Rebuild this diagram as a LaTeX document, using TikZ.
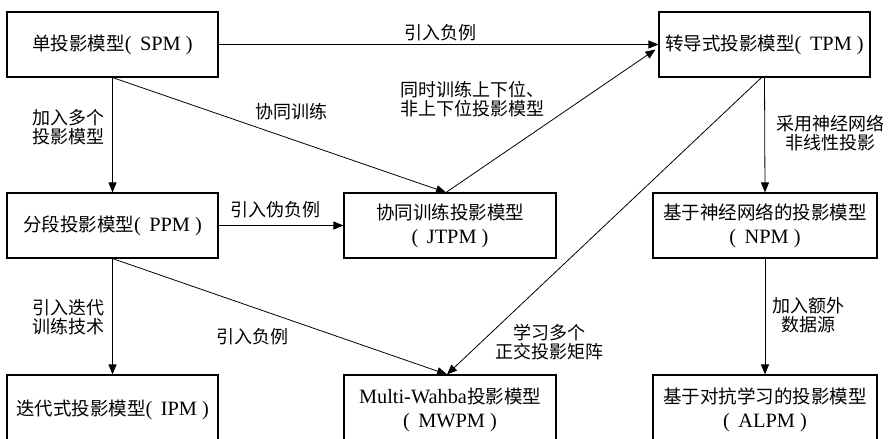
\documentclass[tikz,border=0pt]{standalone}
\usepackage{fontspec}
\setmainfont{Liberation Serif}[Scale=1.1]
\newfontfamily\cjk{Noto Sans CJK SC}
\newcommand\zh[1]{{\cjk #1}}
\newcommand\pa[1]{(\kern0.42em#1\kern0.25em)}
\usetikzlibrary{arrows.meta,calc}
\begin{document}
\begin{tikzpicture}[x=1pt,y=-1pt,
  box/.style={draw, line width=1.1pt, minimum height=65pt, inner sep=0pt, align=center,
    font=\fontsize{18.5}{24}\selectfont},
  lbl/.style={align=center, inner sep=0pt, font=\cjk\fontsize{18}{19.5}\selectfont},
  arr/.style={-{Triangle[length=10pt,width=8pt]}, line width=0.8pt}]
\useasboundingbox (0,0) rectangle (892,439);
\clip (0,0) rectangle (892,439);
% boxes
\node[box, minimum width=211pt] (SPM) at (112.5,44.5) {\zh{单投影模型}\pa{SPM}};
\node[box, minimum width=211pt] (TPM) at (764.5,44.5) {\zh{转导式投影模型}\pa{TPM}};
\node[box, minimum width=211pt] (PPM) at (112.5,225.5) {\zh{分段投影模型}\pa{PPM}};
\node[box, minimum width=212pt] (JTPM) at (450,225.5) {\zh{协同训练投影模型}\\\pa{JTPM}};
\node[box, minimum width=224pt] (NPM) at (765,225.5) {\zh{基于神经网络的投影模型}\\\pa{NPM}};
\node[box, minimum width=211pt, minimum height=70pt] (IPM) at (112.5,410) {\zh{迭代式投影模型}\pa{IPM}};
\node[box, minimum width=212pt, minimum height=70pt] (MWPM) at (450,410) {Multi-Wahba\zh{投影模型}\\\pa{MWPM}};
\node[box, minimum width=224pt, minimum height=70pt] (ALPM) at (765,410) {\zh{基于对抗学习的投影模型}\\\pa{ALPM}};
% connectors
\draw[arr] (SPM) -- (TPM);
\draw[arr] (SPM.south) -- ($(JTPM.north)+(-4,0)$);
\draw[arr] (SPM.south) -- (PPM.north);
\draw[arr] ($(JTPM.north)+(-4,0)$) -- ($(TPM.west)+(-3,5)$);
\draw[arr] (PPM) -- (JTPM);
\draw[arr] (PPM.south) -- (IPM.north);
\draw[arr] (PPM.south) -- ($(MWPM.north)+(-3,0)$);
\draw[arr] ($(TPM.south)+(-3,0)$) -- ($(MWPM.north)+(-3,0)$);
\draw[arr] (TPM.south) -- (NPM.north);
\draw[arr] (NPM.south) -- (ALPM.north);
% labels
\node[lbl] (l1) at (440,33) {引入负例};
\node[lbl] (l2) at (68,127) {加入多个\\投影模型};
\node[lbl] (l3) at (291,112) {协同训练};
\node[lbl, align=left] (l4) at (472,99) {同时训练上下位、\\非上下位投影模型};
\node[lbl] (l5) at (275,210) {引入伪负例};
\node[lbl] (l6) at (68,317) {引入迭代\\训练技术};
\node[lbl] (l7) at (252,337) {引入负例};
\node[lbl] (l8) at (549,342) {学习多个\\正交投影矩阵};
\node[lbl] (l9) at (830,133) {采用神经网络\\非线性投影};
\node[lbl] (l10) at (808,315) {加入额外\\数据源};
\end{tikzpicture}
\end{document}
